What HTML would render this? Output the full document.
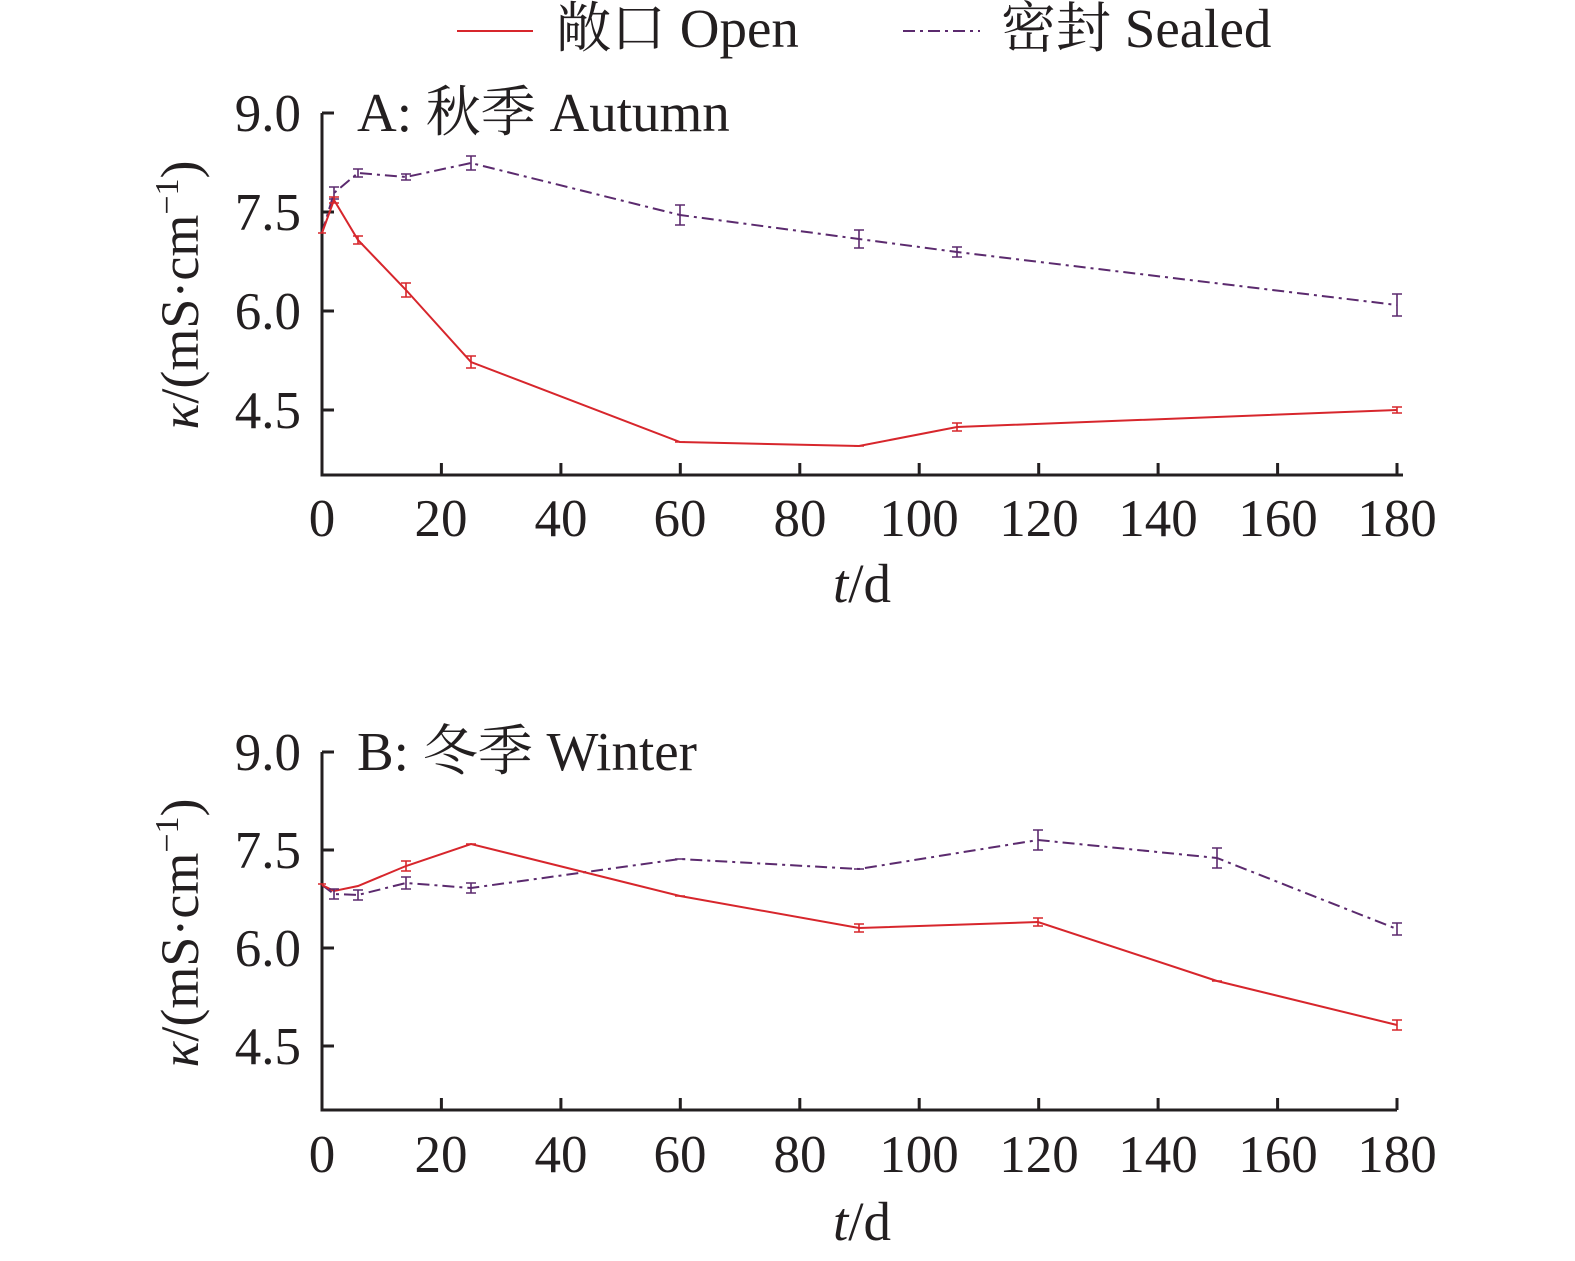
<!DOCTYPE html>
<html><head><meta charset="utf-8"><style>
html,body{margin:0;padding:0;background:#fff}
svg{display:block}
text{font-family:"Liberation Serif","Noto Serif CJK SC",serif;fill:#231f20}
</style></head><body>
<svg width="1575" height="1261" viewBox="0 0 1575 1261" xmlns="http://www.w3.org/2000/svg">
<!-- legend -->
<line x1="457" y1="31" x2="533" y2="31" stroke="#d7262c" stroke-width="2"/>
<text x="556" y="47" font-size="55">敞口 Open</text>
<line x1="903" y1="31" x2="980" y2="31" stroke="#5b2a6e" stroke-width="2" stroke-dasharray="12,5,3,5"/>
<text x="1001" y="47" font-size="55">密封 Sealed</text>

<!-- Panel A -->
<g stroke="#231f20" stroke-width="3" fill="none">
<path d="M322,113 V475 H1403"/>
<path d="M322,113 h12 M322,212 h12 M322,311 h12 M322,410 h12"/>
<path d="M441.4,475 v-12 M560.9,475 v-12 M680.3,475 v-12 M799.8,475 v-12 M919.2,475 v-12 M1038.7,475 v-12 M1158.1,475 v-12 M1277.6,475 v-12 M1397,475 v-12"/>
</g>
<g font-size="53" text-anchor="end">
<text x="301" y="131">9.0</text><text x="301" y="230">7.5</text><text x="301" y="329">6.0</text><text x="301" y="428">4.5</text>
</g>
<g font-size="53" text-anchor="middle">
<text x="322" y="536">0</text><text x="441" y="536">20</text><text x="561" y="536">40</text><text x="680" y="536">60</text><text x="800" y="536">80</text><text x="919" y="536">100</text><text x="1039" y="536">120</text><text x="1158" y="536">140</text><text x="1278" y="536">160</text><text x="1397" y="536">180</text>
</g>
<text x="862" y="602" font-size="55" text-anchor="middle"><tspan font-style="italic">t</tspan>/d</text>
<text x="357" y="131" font-size="55">A: 秋季 Autumn</text>
<text transform="translate(198,295) rotate(-90)" font-size="54" text-anchor="middle"><tspan font-style="italic">κ</tspan>/(mS·cm<tspan font-size="34" dy="-20">−1</tspan><tspan dy="20">)</tspan></text>

<polyline fill="none" stroke="#5b2a6e" stroke-width="2" stroke-dasharray="12,5,3,5" points="322,233 334,193 358,173 406,177 471,163 680,215 859,239 957,252 1397,305"/>
<polyline fill="none" stroke="#d7262c" stroke-width="2" points="322,233 334,200 358,240 406,290 471,362 680,442 859,446 957,427 1397,410"/>
<g stroke="#5b2a6e" stroke-width="1.6">
<path d="M334,187v12M329,187h10M329,199h10 M358,169v8M353,169h10M353,177h10 M406,174v6M401,174h10M401,180h10 M471,156v14M466,156h10M466,170h10 M680,205v20M675,205h10M675,225h10 M859,230v18M854,230h10M854,248h10 M957,247v10M952,247h10M952,257h10 M1397,294v22M1392,294h10M1392,316h10"/>
</g>
<g stroke="#d7262c" stroke-width="1.6">
<path d="M318,233h8 M334,197v6M329,197h10M329,203h10 M358,236v8M353,236h10M353,244h10 M406,283v14M401,283h10M401,297h10 M471,356v12M466,356h10M466,368h10 M675,442h10 M854,446h10 M957,423v8M952,423h10M952,431h10 M1397,407v6M1392,407h10M1392,413h10"/>
</g>

<!-- Panel B -->
<g stroke="#231f20" stroke-width="3" fill="none">
<path d="M322,752 V1110 H1397"/>
<path d="M322,752 h12 M322,850 h12 M322,948 h12 M322,1046 h12"/>
<path d="M441.4,1110 v-12 M560.9,1110 v-12 M680.3,1110 v-12 M799.8,1110 v-12 M919.2,1110 v-12 M1038.7,1110 v-12 M1158.1,1110 v-12 M1277.6,1110 v-12 M1397,1110 v-12"/>
</g>
<g font-size="53" text-anchor="end">
<text x="301" y="770">9.0</text><text x="301" y="868">7.5</text><text x="301" y="966">6.0</text><text x="301" y="1064">4.5</text>
</g>
<g font-size="53" text-anchor="middle">
<text x="322" y="1172">0</text><text x="441" y="1172">20</text><text x="561" y="1172">40</text><text x="680" y="1172">60</text><text x="800" y="1172">80</text><text x="919" y="1172">100</text><text x="1039" y="1172">120</text><text x="1158" y="1172">140</text><text x="1278" y="1172">160</text><text x="1397" y="1172">180</text>
</g>
<text x="862" y="1240" font-size="55" text-anchor="middle"><tspan font-style="italic">t</tspan>/d</text>
<text x="357" y="770" font-size="55">B: 冬季 Winter</text>
<text transform="translate(198,933) rotate(-90)" font-size="54" text-anchor="middle"><tspan font-style="italic">κ</tspan>/(mS·cm<tspan font-size="34" dy="-20">−1</tspan><tspan dy="20">)</tspan></text>

<polyline fill="none" stroke="#5b2a6e" stroke-width="2" stroke-dasharray="12,5,3,5" points="322,885 334,894 358,895 406,883 471,888 680,859 859,869 1038,840 1217,858 1397,929"/>
<polyline fill="none" stroke="#d7262c" stroke-width="2" points="322,885 334,891 358,886 406,866 471,844 680,896 859,928 1038,922 1217,981 1397,1025"/>
<g stroke="#5b2a6e" stroke-width="1.6">
<path d="M334,889v10M329,889h10M329,899h10 M358,890v10M353,890h10M353,900h10 M406,877v12M401,877h10M401,889h10 M471,883v10M466,883h10M466,893h10 M675,859h10 M854,869h10 M1038,830v20M1033,830h10M1033,850h10 M1217,848v20M1212,848h10M1212,868h10 M1397,923v12M1392,923h10M1392,935h10"/>
</g>
<g stroke="#d7262c" stroke-width="1.6">
<path d="M318,884h8 M406,861v10M401,861h10M401,871h10 M466,844h10 M675,896h10 M859,924v8M854,924h10M854,932h10 M1038,918v8M1033,918h10M1033,926h10 M1212,981h10 M1397,1020v10M1392,1020h10M1392,1030h10"/>
</g>
</svg>
</body></html>
